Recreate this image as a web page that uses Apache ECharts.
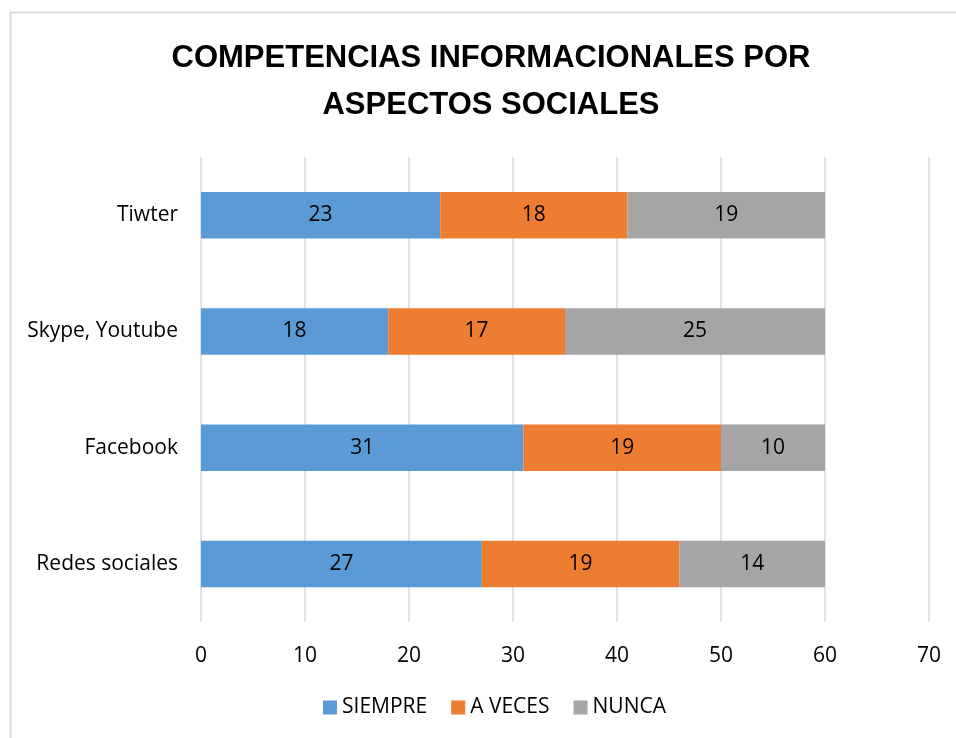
<!DOCTYPE html>
<html>
<head>
<meta charset="utf-8">
<script src="https://cdn.jsdelivr.net/npm/echarts@6/dist/echarts.min.js"></script>
<style>html,body{margin:0;padding:0;background:#fff}#c{width:956px;height:738px}</style>
</head>
<body>
<div id="c"></div>
<script>
const categories = ['Redes sociales', 'Facebook', 'Skype, Youtube', 'Tiwter'];
const siempre = [27, 31, 18, 23];
const aVeces = [19, 19, 17, 18];
const nunca = [14, 10, 25, 19];
const seriesNames = ['SIEMPRE', 'A VECES', 'NUNCA'];
const xTicks = { min: 0, max: 70, interval: 10 };

const FONT = 'Open Sans';
const FS = 21;
const chart = echarts.init(document.getElementById('c'));
const mk = (name, data, color) => ({
  name, type: 'bar', stack: 'total', data, barWidth: '40%',
  itemStyle: { color },
  label: { show: true, position: 'inside', color: '#000', fontFamily: FONT, fontSize: FS }
});
chart.setOption({
  animation: false,
  title: {
    text: 'COMPETENCIAS INFORMACIONALES POR\nASPECTOS SOCIALES',
    left: 486, textAlign: 'center', top: 30,
    textStyle: { fontFamily: 'Liberation Sans', fontWeight: 'bold', fontSize: 31, color: '#000', lineHeight: 47 }
  },
  graphic: [{ type: 'rect', shape: { x: 10.5, y: 12.5, width: 1000, height: 1000 }, style: { fill: 'none', stroke: '#D9D9D9', lineWidth: 2 }, silent: true }],
  legend: {
    bottom: 15, left: 318, icon: 'rect', itemWidth: 14, itemHeight: 14, itemGap: 24,
    textStyle: { fontFamily: FONT, fontSize: FS, color: '#000' },
    data: seriesNames
  },
  grid: { left: 201, right: 27, top: 157, bottom: 116, containLabel: false },
  xAxis: {
    type: 'value', min: xTicks.min, max: xTicks.max, interval: xTicks.interval,
    axisLine: { show: false }, axisTick: { show: false },
    splitLine: { show: true, lineStyle: { color: '#D9D9D9', width: 1.5 } },
    axisLabel: { fontFamily: FONT, fontSize: FS, color: '#000', margin: 24 }
  },
  yAxis: {
    type: 'category', data: categories,
    axisLine: { show: false }, axisTick: { show: false },
    axisLabel: { fontFamily: FONT, fontSize: FS, color: '#000', margin: 23 }
  },
  series: [
    mk(seriesNames[0], siempre, '#5B9BD5'),
    mk(seriesNames[1], aVeces, '#ED7D31'),
    mk(seriesNames[2], nunca, '#A5A5A5')
  ]
});
</script>
</body>
</html>
